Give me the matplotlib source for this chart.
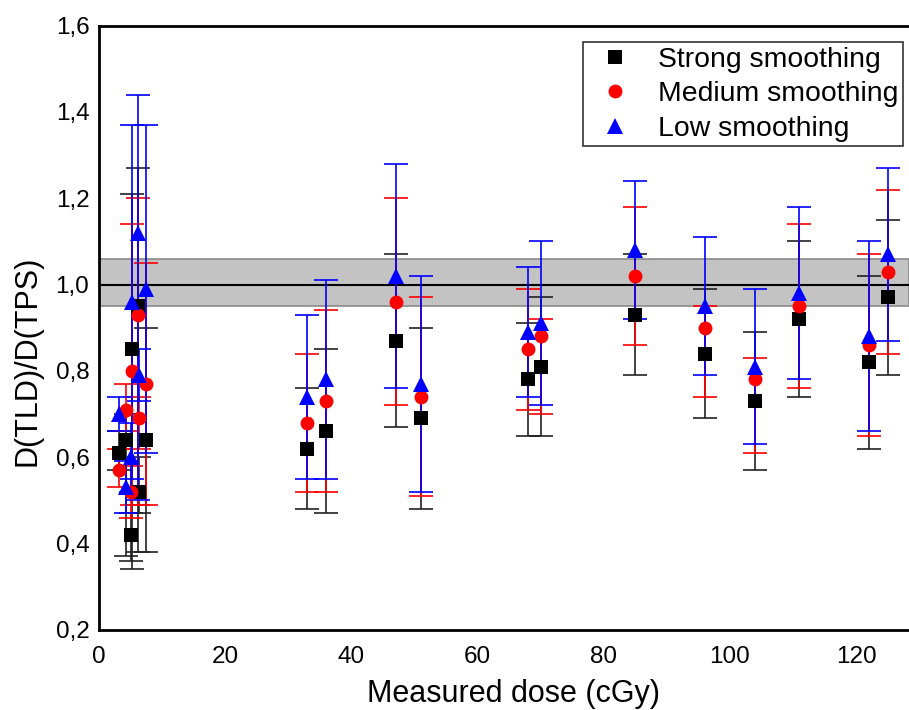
import matplotlib
matplotlib.use('Agg')
import matplotlib.pyplot as plt
from matplotlib.ticker import FuncFormatter

plt.rcParams['font.family'] = ['Liberation Sans', 'DejaVu Sans']

# Доза (cGy)
dose = [3.2, 4.2, 5.0, 5.2, 6.2, 6.3, 7.4, 33, 36, 47, 51, 68, 70, 85, 96, 104, 111, 122, 125]

# Strong smoothing
strong = [0.61, 0.64, 0.42, 0.85, 0.95, 0.52, 0.64, 0.62, 0.66, 0.87, 0.69, 0.78, 0.81, 0.93, 0.84, 0.73, 0.92, 0.82, 0.97]
strong_hi = [0.66, 0.70, 0.47, 1.21, 1.27, 0.60, 0.90, 0.76, 0.85, 1.07, 0.90, 0.91, 0.97, 1.07, 0.99, 0.89, 1.10, 1.02, 1.15]
strong_lo = [0.57, 0.37, 0.36, 0.34, 0.38, 0.47, 0.38, 0.48, 0.47, 0.67, 0.48, 0.65, 0.65, 0.79, 0.69, 0.57, 0.74, 0.62, 0.79]

# Medium smoothing
medium = [0.57, 0.71, 0.52, 0.80, 0.93, 0.69, 0.77, 0.68, 0.73, 0.96, 0.74, 0.85, 0.88, 1.02, 0.90, 0.78, 0.95, 0.86, 1.03]
medium_hi = [0.62, 0.77, 0.58, 1.14, 1.20, 0.74, 1.05, 0.84, 0.94, 1.20, 0.97, 0.99, 0.92, 1.18, 0.95, 0.83, 1.14, 1.07, 1.22]
medium_lo = [0.53, 0.66, 0.46, 0.49, 0.49, 0.62, 0.49, 0.52, 0.52, 0.72, 0.51, 0.71, 0.70, 0.86, 0.74, 0.61, 0.76, 0.65, 0.84]

# Low smoothing
low = [0.70, 0.53, 0.60, 0.96, 1.12, 0.79, 0.99, 0.74, 0.78, 1.02, 0.77, 0.89, 0.91, 1.08, 0.95, 0.81, 0.98, 0.88, 1.07]
low_hi = [0.74, 0.59, 0.68, 1.37, 1.44, 0.85, 1.37, 0.93, 1.01, 1.28, 1.02, 1.04, 1.10, 1.24, 1.11, 0.99, 1.18, 1.10, 1.27]
low_lo = [0.66, 0.47, 0.52, 0.55, 0.50, 0.73, 0.61, 0.55, 0.55, 0.76, 0.52, 0.74, 0.72, 0.92, 0.79, 0.63, 0.78, 0.66, 0.87]

band_lo, band_hi = 0.95, 1.06
yticks = [0.2, 0.4, 0.6, 0.8, 1.0, 1.2, 1.4, 1.6]
xticks = [0, 20, 40, 60, 80, 100, 120]

fig = plt.figure(figsize=(9.09, 7.10), dpi=100)
ax = fig.add_axes([0.109, 0.113, 0.891, 0.851])

# Серая полоса и линия 1.0
ax.axhspan(band_lo, band_hi, facecolor='#c3c3c3', edgecolor='#8a8a8a', lw=1.2, zorder=0)
ax.axhline(1.0, color='black', lw=1.5, zorder=1)

series = [
    (strong, strong_lo, strong_hi, 'black', '#222222', 's', 9.5, 'Strong smoothing'),
    (medium, medium_lo, medium_hi, 'red', 'red', 'o', 10, 'Medium smoothing'),
    (low, low_lo, low_hi, 'blue', 'blue', '^', 12, 'Low smoothing'),
]

for i, (vals, lo, hi, col, ecol, mk, ms, lab) in enumerate(series):
    err = [[v - l for v, l in zip(vals, lo)], [h - v for v, h in zip(vals, hi)]]
    ax.errorbar(dose, vals, yerr=err, fmt='none', ecolor=ecol, elinewidth=1.2,
                capsize=8.5, capthick=1.2, zorder=2 + i)
for i, (vals, lo, hi, col, ecol, mk, ms, lab) in enumerate(series):
    ax.plot(dose, vals, linestyle='none', marker=mk, color=col, markersize=ms,
            markeredgewidth=0, label=lab, zorder=6 + i)

ax.set_xlim(0, 128.4)
ax.set_ylim(0.2, 1.6)
ax.set_xticks(xticks)
ax.set_yticks(yticks)
ax.yaxis.set_major_formatter(FuncFormatter(lambda v, p: f'{v:.1f}'.replace('.', ',')))
ax.tick_params(axis='x', length=0, labelsize=17.5, pad=12)
ax.tick_params(axis='y', length=0, labelsize=17.5, pad=7)

for s in ['left', 'bottom', 'top']:
    ax.spines[s].set_linewidth(2)
ax.spines['right'].set_visible(False)

ax.set_xlabel('Measured dose (cGy)', fontsize=22)
ax.set_ylabel('D(TLD)/D(TPS)', fontsize=22)
ax.xaxis.set_label_coords(0.512, -0.082)
ax.yaxis.set_label_coords(-0.070, 0.445)

leg = ax.legend(loc='upper right', bbox_to_anchor=(0.9926, 0.972), borderaxespad=0,
                fontsize=20.4, frameon=True, fancybox=False, handletextpad=0.55,
                borderpad=0.15, labelspacing=0.3, markerscale=1.0, handlelength=1.95)
leg.get_frame().set_edgecolor('black')
leg.get_frame().set_linewidth(1.2)

fig.savefig('out.png', dpi=100)
